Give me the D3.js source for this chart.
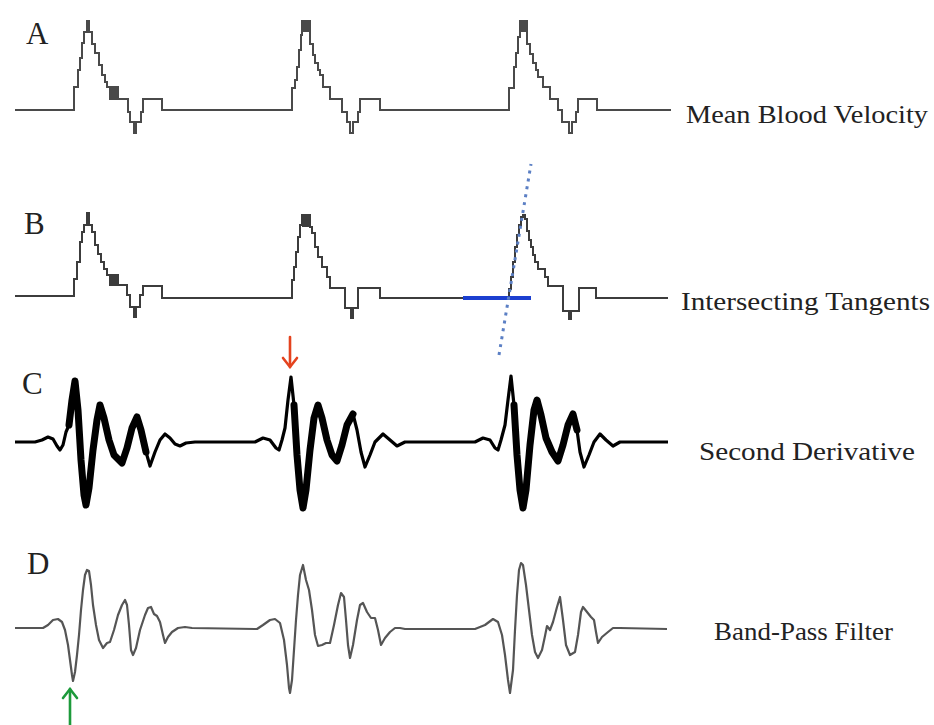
<!DOCTYPE html>
<html>
<head>
<meta charset="utf-8">
<script src="https://cdn.jsdelivr.net/npm/d3@7"></script>
<style>
  html, body { margin: 0; padding: 0; background: #ffffff; }
  svg { display: block; }
</style>
</head>
<body>
<svg id="chart" width="934" height="725"></svg>
<script>
// ---------------- DATA (sample index, amplitude) ----------------
const panelLetters = ["A", "B", "C", "D"];
const panelTitles = ["Mean Blood Velocity", "Intersecting Tangents", "Second Derivative", "Band-Pass Filter"];

// A: mean blood velocity (stepped trace)
const velocityBeat1 = [[15,0],[74,23],[78,40],[80,52],[82,67],[84,78],[87,89],[89,78],[92,66],[95,57],[99,45],[102,35],[105,28],[107,23],[110,11],[111,23],[112,11],[113,23],[114,11],[115,23],[116,11],[117,23],[118,11],[128,-2],[130,-12],[134,-23],[136,-12],[141,-2],[143,11],[162,0]];
const velocityBeat2 = [[292,22],[295,30],[297,43],[299,60],[301,75],[302,89],[303,79],[304,89],[305,79],[306,89],[307,79],[308,89],[310,66],[313,55],[315,47],[318,40],[320,35],[323,23],[330,11],[342,-2],[347,-12],[350,-23],[353,-12],[358,-2],[360,11],[380,0]];
const velocityBeat3 = [[509,22],[514,43],[516,57],[518,73],[520,89],[521,79],[522,89],[523,79],[524,89],[525,79],[526,89],[527,66],[530,56],[533,47],[536,40],[538,33],[543,23],[550,11],[558,0],[562,-12],[569,-23],[572,-12],[576,-2],[578,11],[597,0],[671,0]];

// B: same velocity trace used for intersecting tangents
const tangentBeat1 = [[15,1],[74,18],[77,35],[80,55],[82,65],[84,72],[87,84],[89,72],[92,65],[95,52],[98,43],[101,35],[104,28],[107,22],[110,12],[111,22],[112,12],[113,22],[114,12],[115,22],[116,12],[117,22],[118,12],[127,2],[130,-10],[134,-20],[136,-10],[140,2],[143,11],[162,-1]];
const tangentBeat2 = [[292,17],[294,30],[296,45],[298,60],[300,72],[302,82],[303,71],[304,82],[305,71],[306,82],[307,71],[308,82],[310,70],[312,64],[315,50],[318,40],[322,30],[327,20],[330,9],[345,-11],[351,-21],[353,-11],[358,9],[380,-1]];
const tangentBeat3 = [[509,8],[511,20],[513,35],[515,50],[517,62],[519,72],[521,80],[523,82],[525,78],[527,66],[529,57],[531,50],[533,42],[535,35],[538,28],[545,20],[548,11],[563,-14],[569,-22],[571,-14],[579,9],[596,-1],[668,-1]];
const baselineTangent = [[463,-1],[531,-1]];
const upstrokeTangent = [[499,-58],[531,133]];

// C: second derivative
const derivBeat1 = [[15,0],[35,0],[42,2],[48,5],[53,3],[57,-4],[60,-8],[63,-3],[66,10],[69,17],[72,42],[75,61],[78,32],[81,-18],[84,-53],[86,-63],[89,-46],[93,-8],[97,22],[100,37],[104,24],[109,2],[114,-13],[122,-21],[127,-6],[132,14],[137,25],[141,12],[146,-10],[150,-24],[155,-10],[160,2],[165,8],[170,4],[175,-2],[180,-4],[186,-1],[195,0]];
const derivBeat2 = [[255,0],[263,4],[270,2],[276,-6],[279,-8],[282,2],[285,14],[288,42],[291,65],[294,37],[297,-13],[300,-48],[303,-66],[306,-48],[310,-8],[314,24],[318,37],[322,24],[327,2],[332,-13],[337,-19],[342,-3],[347,17],[353,28],[357,12],[361,-10],[365,-25],[370,-13],[375,0],[383,8],[390,2],[397,-4],[405,0]];
const derivBeat3 = [[475,0],[483,4],[490,2],[495,-6],[498,-8],[501,2],[505,17],[508,42],[511,66],[514,37],[517,-13],[520,-48],[523,-66],[526,-48],[530,-3],[534,32],[537,42],[541,27],[546,4],[552,-10],[558,-19],[563,-3],[568,17],[573,28],[577,12],[580,-10],[584,-25],[589,-13],[594,0],[600,8],[606,2],[613,-4],[620,0],[668,0]];

// D: band-pass filter
const bandBeat1 = [[15,1],[43,1],[48,4],[53,9],[58,10],[62,7],[65,-1],[68,-16],[70,-31],[72,-46],[73,-52],[75,-43],[77,-26],[79,-6],[81,19],[83,39],[85,54],[87,59],[89,58],[91,44],[93,24],[96,4],[99,-11],[103,-19],[107,-14],[110,-13],[114,-1],[118,14],[122,24],[125,29],[127,24],[129,4],[131,-21],[133,-26],[136,-19],[140,-1],[145,14],[148,21],[151,22],[154,15],[157,13],[160,7],[163,-6],[165,-14],[168,-8],[172,-3],[178,1],[185,2],[192,1],[255,0]];
const bandBeat2 = [[257,0],[263,4],[270,9],[275,10],[280,6],[284,-11],[287,-36],[289,-59],[290,-64],[292,-51],[294,-21],[296,9],[298,34],[300,54],[303,64],[306,49],[309,39],[312,19],[315,-6],[318,-17],[322,-16],[326,-14],[330,-14],[334,4],[338,24],[341,36],[344,32],[346,9],[348,-16],[350,-29],[353,-16],[357,9],[360,24],[363,26],[367,17],[371,11],[375,11],[378,-1],[381,-16],[385,-9],[390,-3],[395,1],[400,1],[405,0]];
const bandBeat3 = [[475,0],[485,4],[493,10],[498,7],[502,-6],[505,-26],[508,-51],[510,-64],[513,-41],[515,-1],[517,34],[519,59],[521,66],[523,64],[526,44],[529,19],[532,-6],[535,-23],[538,-29],[542,-21],[545,-7],[547,3],[550,-1],[553,7],[557,22],[560,32],[563,9],[566,-16],[570,-26],[575,-23],[578,-6],[581,17],[583,22],[587,17],[591,12],[594,9],[596,-3],[598,-14],[602,-8],[608,-3],[613,1],[620,1],[667,0]];

// markers: sample index of the annotated feature
const redArrowAt = [291, 65];   // C, peak of 2nd derivative (beat 2)
const greenArrowAt = [73, -52]; // D, trough of band-pass (beat 1)

// ---------------- DRAW ----------------
const svg = d3.select("#chart");
const x = d3.scaleLinear().domain([0, 934]).range([0, 934]);
const yA = d3.scaleLinear().domain([0, 100]).range([110, 10]);
const yB = d3.scaleLinear().domain([0, 100]).range([297, 197]);
const yC = d3.scaleLinear().domain([0, 100]).range([442, 342]);
const yD = d3.scaleLinear().domain([0, 100]).range([629, 529]);

function line(y, curve) {
  return d3.line().x(d => x(d[0])).y(d => y(d[1])).curve(curve || d3.curveLinear);
}

// A
svg.append("path").datum([...velocityBeat1, ...velocityBeat2, ...velocityBeat3])
  .attr("d", line(yA, d3.curveStepAfter))
  .attr("fill", "none").attr("stroke", "#4a4a4a").attr("stroke-width", 2);

// B
svg.append("path").datum([...tangentBeat1, ...tangentBeat2, ...tangentBeat3])
  .attr("d", line(yB, d3.curveStepAfter))
  .attr("fill", "none").attr("stroke", "#3c3c3c").attr("stroke-width", 2);
svg.append("path").datum(baselineTangent)
  .attr("d", line(yB))
  .attr("fill", "none").attr("stroke", "#1c3fd0").attr("stroke-width", 4);
svg.append("path").datum(upstrokeTangent)
  .attr("d", line(yB))
  .attr("fill", "none").attr("stroke", "#5b7fc4").attr("stroke-width", 3)
  .attr("stroke-dasharray", "3,5");

// C
svg.append("path").datum([...derivBeat1, ...derivBeat2, ...derivBeat3])
  .attr("d", line(yC))
  .attr("fill", "none").attr("stroke", "#000").attr("stroke-width", 3.2)
  .attr("stroke-linejoin", "round");
[derivBeat1, derivBeat2, derivBeat3].forEach(b => {
  svg.append("path").datum(b.slice(9, b.length - 9))
    .attr("d", line(yC))
    .attr("fill", "none").attr("stroke", "#000").attr("stroke-width", 7)
    .attr("stroke-linejoin", "round").attr("stroke-linecap", "round");
});

// D
svg.append("path").datum([...bandBeat1, ...bandBeat2, ...bandBeat3])
  .attr("d", line(yD))
  .attr("fill", "none").attr("stroke", "#555").attr("stroke-width", 2.2)
  .attr("stroke-linejoin", "round");

// Arrows
function arrow(px, tipY, dir, len, color) {
  const g = svg.append("g").attr("stroke", color).attr("fill", "none")
    .attr("stroke-width", 2.6).attr("stroke-linecap", "round");
  g.append("line").attr("x1", px).attr("x2", px).attr("y1", tipY).attr("y2", tipY - dir * len);
  g.append("path").attr("d", `M${px - 7},${tipY - dir * 9} L${px},${tipY} L${px + 7},${tipY - dir * 9}`)
    .attr("stroke-linejoin", "miter");
}
arrow(x(redArrowAt[0]) - 1, yC(redArrowAt[1]) - 10, 1, 30, "#e4431e");
arrow(x(greenArrowAt[0]) - 3, yD(greenArrowAt[1]) + 8, -1, 40, "#1d9a3b");

// Panel letters and titles
const letterPos = [[26, 44], [24, 234], [22, 394], [27, 574]];
const titlePos = [[686, 123, 242], [681, 310, 249], [699, 460, 216], [714, 640, 179]];
panelLetters.forEach((t, i) => {
  svg.append("text").attr("x", letterPos[i][0]).attr("y", letterPos[i][1])
    .attr("font-family", "'Liberation Serif', 'DejaVu Serif', serif")
    .attr("font-size", 31).attr("fill", "#222").text(t);
});
panelTitles.forEach((t, i) => {
  svg.append("text").attr("x", titlePos[i][0]).attr("y", titlePos[i][1])
    .attr("font-family", "'Liberation Serif', 'DejaVu Serif', serif")
    .attr("font-size", 24.5).attr("fill", "#222")
    .attr("textLength", titlePos[i][2]).attr("lengthAdjust", "spacingAndGlyphs")
    .text(t);
});
</script>
</body>
</html>
